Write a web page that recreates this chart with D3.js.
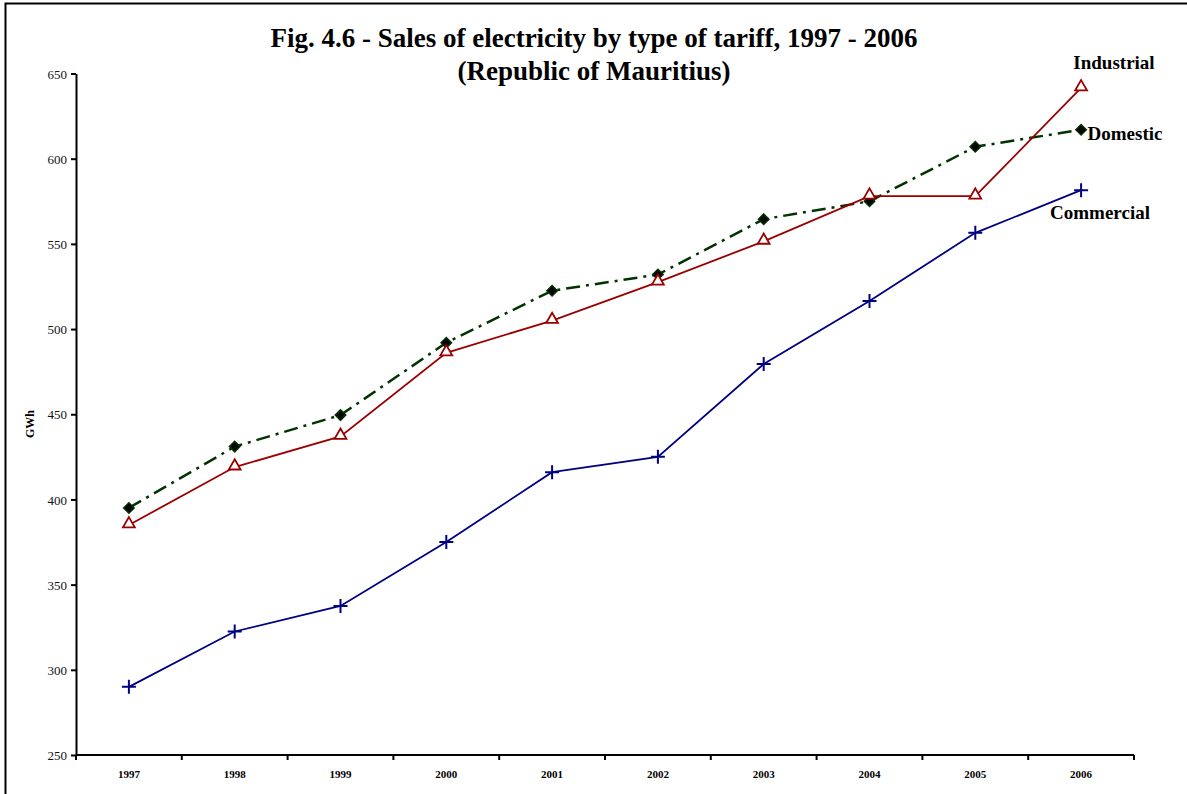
<!DOCTYPE html>
<html>
<head>
<meta charset="utf-8">
<script src="https://cdn.jsdelivr.net/npm/d3@7"></script>
<style>
  body { margin: 0; background: #fff; }
  svg { display: block; font-family: "Liberation Serif", "Times New Roman", serif; }
</style>
</head>
<body>
<svg id="chart" width="1187" height="794"></svg>
<script>
// data (GWh)
var years = ["1997", "1998", "1999", "2000", "2001", "2002", "2003", "2004", "2005", "2006"];
var domestic = [395, 431, 449.5, 492, 522.5, 532, 564.5, 575, 607, 617];
var industrial = [385, 419, 437, 486, 505, 527.5, 551.5, 578, 578, 641.5];
var commercial = [290, 322.5, 337.5, 375, 416, 425, 479.5, 516.5, 556.5, 581.5];
var yTicks = [250, 300, 350, 400, 450, 500, 550, 600, 650];

var svg = d3.select("#chart");

// frame
svg.append("rect")
    .attr("x", 5.5).attr("y", 3.5)
    .attr("width", 1200).attr("height", 820)
    .attr("fill", "none").attr("stroke", "#000").attr("stroke-width", 2);

var plotL = 76, plotR = 1134, plotT = 73.5, plotB = 755;

var x = d3.scaleBand().domain(years).range([plotL, plotR]);
var y = d3.scaleLinear().domain([250, 650]).range([plotB, plotT]);

// y axis
var yAxis = svg.append("g")
    .attr("transform", `translate(${plotL},0)`)
    .call(d3.axisLeft(y).tickValues(yTicks).tickSize(5).tickSizeOuter(0))
    .attr("font-family", "Liberation Serif")
    .attr("font-size", 13);
yAxis.select(".domain").attr("stroke-width", 2);
yAxis.selectAll(".tick line").attr("stroke-width", 2);
yAxis.selectAll("text")
    .attr("fill", "#111")
    .attr("x", -9).attr("dy", "0.35em");

// x axis with ticks between categories
var xAxis = svg.append("g")
    .attr("transform", `translate(0,${plotB})`);
xAxis.append("line")
    .attr("x1", plotL).attr("x2", plotR)
    .attr("stroke", "#000").attr("stroke-width", 2);
xAxis.selectAll(".sep")
    .data(years.concat(["end"]))
    .join("line")
    .attr("x1", (d, i) => plotL + i * x.step())
    .attr("x2", (d, i) => plotL + i * x.step())
    .attr("y1", 0).attr("y2", 5)
    .attr("stroke", "#000").attr("stroke-width", 2);
xAxis.selectAll(".lbl")
    .data(years)
    .join("text")
    .attr("x", d => x(d) + x.bandwidth() / 2)
    .attr("y", 23)
    .attr("text-anchor", "middle")
    .attr("font-size", 11).attr("font-weight", "bold")
    .text(d => d);

// y label
svg.append("text")
    .attr("transform", "translate(34,424) rotate(-90)")
    .attr("text-anchor", "middle")
    .attr("font-size", 12).attr("font-weight", "bold")
    .text("GWh");

// title
svg.append("text")
    .attr("x", 594).attr("y", 47)
    .attr("text-anchor", "middle")
    .attr("font-size", 27).attr("font-weight", "bold")
    .text("Fig. 4.6 - Sales of electricity by type of tariff, 1997 - 2006");
svg.append("text")
    .attr("x", 594).attr("y", 80)
    .attr("text-anchor", "middle")
    .attr("font-size", 27).attr("font-weight", "bold")
    .text("(Republic of Mauritius)");

var cx = (d, i) => x(years[i]) + x.bandwidth() / 2;
var line = d3.line().x(cx).y(d => y(d));

// domestic: dash-dot dark green, black diamonds
svg.append("path")
    .attr("d", line(domestic))
    .attr("fill", "none").attr("stroke", "#003300").attr("stroke-width", 2.5)
    .attr("stroke-dasharray", "14,6,3,6");
svg.selectAll(".dom")
    .data(domestic)
    .join("path")
    .attr("transform", (d, i) => `translate(${cx(d, i)},${y(d)})`)
    .attr("d", d3.symbol(d3.symbolDiamond2, 70)())
    .attr("fill", "#000").attr("stroke", "#003300").attr("stroke-width", 1.5);

// industrial: dark red solid, open triangles
svg.append("path")
    .attr("d", line(industrial))
    .attr("fill", "none").attr("stroke", "#990000").attr("stroke-width", 1.8);
svg.selectAll(".ind")
    .data(industrial)
    .join("path")
    .attr("transform", (d, i) => `translate(${cx(d, i)},${y(d) - 1})`)
    .attr("d", d3.symbol(d3.symbolTriangle2, 100)())
    .attr("fill", "#fff").attr("stroke", "#990000").attr("stroke-width", 1.8);

// commercial: navy solid, plus markers
svg.append("path")
    .attr("d", line(commercial))
    .attr("fill", "none").attr("stroke", "#000080").attr("stroke-width", 1.8);
svg.selectAll(".com")
    .data(commercial)
    .join("path")
    .attr("transform", (d, i) => `translate(${cx(d, i)},${y(d)})`)
    .attr("d", "M-7,0H7M0,-7V7")
    .attr("fill", "none").attr("stroke", "#000080").attr("stroke-width", 2);

// series labels
var labels = [
  { text: "Industrial", x: 1114, y: 69 },
  { text: "Domestic", x: 1125, y: 140 },
  { text: "Commercial", x: 1100, y: 219 }
];
svg.selectAll(".slabel")
    .data(labels)
    .join("text")
    .attr("x", d => d.x).attr("y", d => d.y)
    .attr("text-anchor", "middle")
    .attr("font-size", 19).attr("font-weight", "bold")
    .text(d => d.text);
</script>
</body>
</html>
